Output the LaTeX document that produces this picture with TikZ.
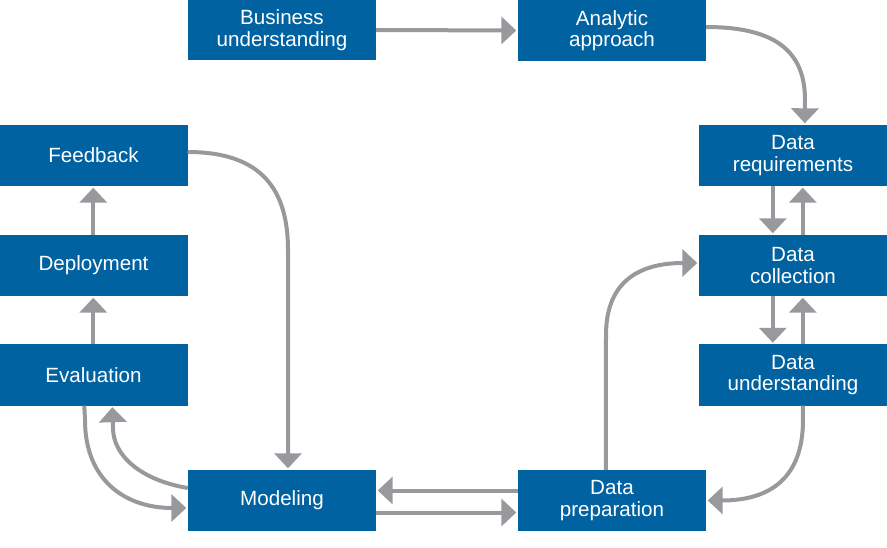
\documentclass[tikz,border=0pt]{standalone}
\usepackage{fontspec}
\setmainfont{Liberation Sans}
\usetikzlibrary{arrows.meta,calc}
\definecolor{boxblue}{RGB}{0,98,160}
\definecolor{arrgray}{RGB}{152,153,157}
\begin{document}
\begin{tikzpicture}[x=1pt,y=-1pt,
  stepbox/.style={fill=boxblue,draw=none,text=white,minimum width=188pt,minimum height=61pt,inner sep=0pt,align=center,font=\fontsize{20.6}{21.5}\selectfont},
  arr/.style={draw=arrgray,line width=4pt,-{Triangle[width=27pt,length=15pt]},shorten >=1.5pt}]
\useasboundingbox (0,0) rectangle (887,548);
\node[stepbox] (bu) at (282,30) {Business\\understanding};
\node[stepbox] (aa) at (612,30.5) {Analytic\\approach};
\node[stepbox] (dr) at (793,155.5) {Data\\requirements};
\node[stepbox] (dc) at (793,265.5) {Data\\collection};
\node[stepbox] (du) at (793,375) {Data\\understanding};
\node[stepbox] (fb) at (93.5,155.5) {Feedback};
\node[stepbox] (dep) at (93.5,265.5) {Deployment};
\node[stepbox] (ev) at (93.5,375) {Evaluation};
\node[stepbox] (mod) at (282,500.5) {Modeling};
\node[stepbox] (dp) at (612,500.5) {Data\\preparation};
% top
\draw[arr] (bu.east) -- (aa.west);
\draw[arr] ($(aa.east)+(0,-3.5)$) .. controls (780,27) and (805,55) .. (805,100) -- ($(dr.north west)+(106,0)$);
% right column
\draw[arr] ($(dr.south west)+(74,0)$) -- ($(dc.north west)+(74,0)$);
\draw[arr] ($(dc.north west)+(104,0)$) -- ($(dr.south west)+(104,0)$);
\draw[arr] ($(dc.south west)+(74,0)$) -- ($(du.north west)+(74,0)$);
\draw[arr] ($(du.north west)+(104,0)$) -- ($(dc.south west)+(104,0)$);
\draw[arr] ($(du.south west)+(104,0)$) -- (803,420) .. controls (803,478) and (770,500.5) .. (dp.east);
% data preparation to collection
\draw[arr] ($(dp.north west)+(88,0)$) -- (606,335) .. controls (606,285) and (635,263) .. ($(dc.west)+(0,-2.5)$);
% bottom
\draw[arr] ($(dp.west)+(0,-10)$) -- ($(mod.east)+(0,-10)$);
\draw[arr] ($(mod.east)+(0,12)$) -- ($(dp.west)+(0,12)$);
% feedback to modeling
\draw[arr] ($(fb.east)+(0,-3.5)$) .. controls (262,152) and (288,190) .. (288,250) -- ($(mod.north)+(6,0)$);
% evaluation loop
\draw[arr] ($(ev.south west)+(85,0)$) -- (85,420) .. controls (85,480) and (125,508) .. ($(mod.west)+(0,7.5)$);
\draw[arr] ($(mod.west)+(0,-12.5)$) .. controls (140,480) and (113,455) .. (113,428) -- ($(ev.south west)+(113,0)$);
% left column
\draw[arr] ($(ev.north west)+(94,0)$) -- ($(dep.south west)+(94,0)$);
\draw[arr] ($(dep.north west)+(94,0)$) -- ($(fb.south west)+(94,0)$);
\end{tikzpicture}
\end{document}
